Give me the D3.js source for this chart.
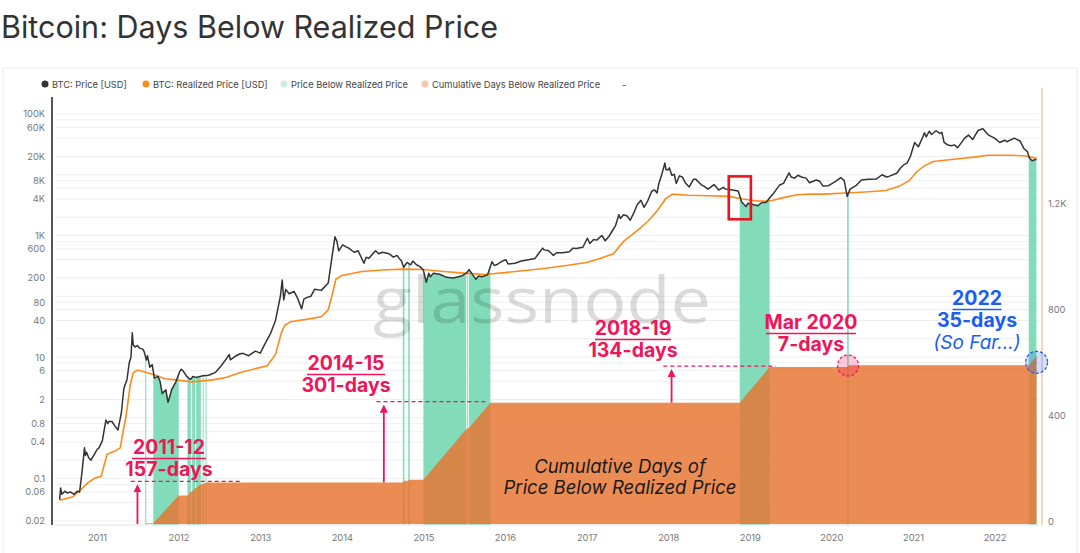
<!DOCTYPE html>
<html>
<head>
<meta charset="utf-8">
<script src="https://cdn.jsdelivr.net/npm/d3@7"></script>
<style>
  body { margin: 0; background: #fff; font-family: Inter, "Noto Sans", sans-serif; }
</style>
</head>
<body>
<svg id="chart" width="1080" height="553"></svg>
<script>
// --- Données
const btcPrice = [
  ["2010-07-18",0.045],["2010-07-22",0.07],["2010-07-28",0.055],["2010-08-10",0.062],["2010-08-20",0.058],
  ["2010-09-05",0.06],["2010-09-20",0.055],["2010-10-05",0.062],["2010-10-15",0.06],["2010-10-25",0.12],
  ["2010-11-06",0.32],["2010-11-10",0.24],["2010-11-15",0.27],["2010-11-25",0.22],["2010-12-05",0.2],
  ["2010-12-20",0.25],["2011-01-01",0.3],["2011-01-10",0.32],["2011-01-25",0.42],["2011-02-10",0.92],
  ["2011-02-18",0.8],["2011-02-25",0.88],["2011-03-10",0.86],["2011-03-20",0.75],["2011-04-05",0.63],
  ["2011-04-20",1.2],["2011-05-01",3.0],["2011-05-08",3.6],["2011-05-15",4.2],["2011-05-25",7.9],
  ["2011-06-02",10],["2011-06-08",25],["2011-06-12",16],["2011-06-20",14.6],["2011-07-01",15.5],
  ["2011-07-10",14],["2011-07-25",13.5],["2011-08-01",12],["2011-08-10",8.9],["2011-08-15",10.5],
  ["2011-08-25",6.8],["2011-09-05",7.5],["2011-09-15",4.5],["2011-10-01",4.8],["2011-10-10",4.0],
  ["2011-10-20",2.5],["2011-11-05",2.9],["2011-11-15",1.8],["2011-11-25",2.4],["2011-12-01",2.9],
  ["2011-12-20",3.9],["2012-01-05",5.6],["2012-01-12",6.3],["2012-01-20",6.0],["2012-02-05",4.9],
  ["2012-02-18",4.4],["2012-02-25",4.3],["2012-03-05",4.8],["2012-03-20",4.6],["2012-04-05",4.8],
  ["2012-04-20",4.9],["2012-05-15",5.0],["2012-06-15",5.6],["2012-07-10",7.2],["2012-07-25",8.5],
  ["2012-08-15",11],["2012-08-20",9],["2012-09-15",10.5],["2012-10-01",11.2],["2012-10-15",11.5],
  ["2012-11-10",10.5],["2012-12-10",12.5],["2013-01-01",11.6],["2013-01-20",16],["2013-02-15",24],
  ["2013-03-10",40],["2013-04-01",100],["2013-04-09",185],["2013-04-16",87],["2013-04-25",130],
  ["2013-05-10",110],["2013-06-01",120],["2013-06-15",96],["2013-07-05",62],["2013-07-15",90],
  ["2013-07-30",96],["2013-08-15",100],["2013-09-01",130],["2013-10-01",125],["2013-11-01",165],
  ["2013-11-20",500],["2013-12-01",950],["2013-12-10",800],["2013-12-18",560],["2014-01-05",700],
  ["2014-01-20",650],["2014-02-01",620],["2014-02-25",530],["2014-03-15",560],["2014-04-10",350],
  ["2014-04-20",440],["2014-05-01",420],["2014-06-01",560],["2014-06-15",500],["2014-07-01",530],
  ["2014-08-01",500],["2014-08-20",440],["2014-09-05",470],["2014-09-15",420],["2014-09-25",380],
  ["2014-10-05",300],["2014-10-20",360],["2014-11-05",330],["2014-11-15",380],["2014-12-01",330],
  ["2014-12-15",310],["2015-01-01",270],["2015-01-14",170],["2015-01-25",240],["2015-02-01",210],
  ["2015-02-15",240],["2015-03-15",230],["2015-04-15",205],["2015-05-15",200],["2015-06-20",215],
  ["2015-07-12",240],["2015-07-25",275],["2015-08-24",190],["2015-09-05",215],["2015-09-20",210],
  ["2015-10-15",225],["2015-11-04",370],["2015-11-15",320],["2015-12-01",340],["2015-12-15",370],
  ["2016-01-05",400],["2016-01-15",340],["2016-02-15",350],["2016-03-15",380],["2016-04-15",400],
  ["2016-05-15",420],["2016-05-30",500],["2016-06-18",620],["2016-06-25",580],["2016-07-15",560],
  ["2016-08-05",470],["2016-08-20",520],["2016-09-15",520],["2016-10-15",540],["2016-11-01",620],
  ["2016-11-15",610],["2016-12-15",640],["2017-01-04",900],["2017-01-15",740],["2017-02-01",860],
  ["2017-02-15",840],["2017-03-10",1000],["2017-03-25",820],["2017-04-10",960],["2017-04-20",1100],
  ["2017-05-10",1450],["2017-05-25",2200],["2017-06-01",1900],["2017-06-15",2200],["2017-07-01",2100],
  ["2017-07-15",1780],["2017-08-01",2400],["2017-08-15",3200],["2017-09-01",3800],["2017-09-15",2900],
  ["2017-10-01",3700],["2017-10-20",5400],["2017-11-01",5600],["2017-11-12",5000],["2017-11-20",7200],
  ["2017-12-01",9500],["2017-12-10",12500],["2017-12-17",15600],["2017-12-22",12200],["2017-12-30",12000],
  ["2018-01-06",13000],["2018-01-17",9800],["2018-01-28",10200],["2018-02-06",7200],["2018-02-20",9600],
  ["2018-03-05",9200],["2018-03-18",7400],["2018-04-05",6300],["2018-04-24",8400],["2018-05-05",8400],
  ["2018-05-28",6900],["2018-06-15",6300],["2018-06-28",5800],["2018-07-25",6900],["2018-08-15",5600],
  ["2018-09-04",6200],["2018-09-15",5800],["2018-10-15",5600],["2018-11-10",5400],["2018-11-20",4200],
  ["2018-11-25",3600],["2018-12-15",3000],["2018-12-24",3400],["2019-01-05",3300],["2019-01-20",3200],
  ["2019-02-07",3100],["2019-02-24",3500],["2019-03-15",3500],["2019-04-05",4400],["2019-04-15",4800],
  ["2019-05-15",6800],["2019-06-01",7200],["2019-06-26",10700],["2019-07-05",9200],["2019-07-20",8800],
  ["2019-08-05",9800],["2019-08-20",9200],["2019-09-10",8800],["2019-09-25",7400],["2019-10-26",8200],
  ["2019-11-10",7800],["2019-11-25",6500],["2019-12-20",6600],["2020-01-20",7800],["2020-02-12",9000],
  ["2020-02-28",8000],["2020-03-12",4400],["2020-03-25",5800],["2020-04-20",6600],["2020-05-15",8200],
  ["2020-06-15",8400],["2020-07-20",8500],["2020-08-15",10000],["2020-09-05",9200],["2020-09-15",9400],
  ["2020-10-20",10600],["2020-11-05",12800],["2020-11-20",14500],["2020-12-05",15500],["2020-12-20",20000],
  ["2021-01-08",34000],["2021-01-25",29000],["2021-02-10",39000],["2021-02-21",49000],["2021-03-01",42000],
  ["2021-03-14",52000],["2021-03-25",46000],["2021-04-14",53000],["2021-05-01",48000],["2021-05-10",50000],
  ["2021-05-20",34000],["2021-06-05",31000],["2021-06-22",30000],["2021-07-05",31000],["2021-07-20",28000],
  ["2021-08-20",40000],["2021-09-06",45000],["2021-09-25",38000],["2021-10-05",44000],["2021-10-20",54000],
  ["2021-11-10",57000],["2021-11-25",49000],["2021-12-05",45000],["2022-01-01",40000],["2022-01-24",34000],
  ["2022-02-15",37000],["2022-02-25",35000],["2022-03-30",40000],["2022-04-25",36000],["2022-05-12",27000],
  ["2022-05-28",24000],["2022-06-05",19000],["2022-06-18",17000],["2022-06-28",17600],["2022-07-08",17800]
];

const realizedPrice = [
  ["2010-07-18",0.044],["2010-09-15",0.05],["2010-10-20",0.065],["2010-11-20",0.085],["2010-12-20",0.1],
  ["2011-01-20",0.11],["2011-02-15",0.25],["2011-03-20",0.28],["2011-04-15",0.32],["2011-04-28",0.6],
  ["2011-05-10",1.0],["2011-05-30",3.5],["2011-06-12",5.5],["2011-07-01",6.1],["2011-08-15",5.5],
  ["2011-09-20",5.0],["2011-11-01",4.4],["2011-12-20",4.2],["2012-03-01",3.9],["2012-06-01",4.2],
  ["2012-08-01",4.6],["2012-10-01",5.5],["2012-12-15",6.5],["2013-02-01",7.2],["2013-03-10",11],
  ["2013-04-05",25],["2013-04-20",33],["2013-05-15",38],["2013-08-01",42],["2013-10-01",46],
  ["2013-11-01",60],["2013-11-20",110],["2013-12-05",190],["2014-01-01",220],["2014-04-01",255],
  ["2014-07-01",270],["2014-10-01",280],["2015-01-01",275],["2015-04-01",255],["2015-07-01",240],
  ["2015-10-01",228],["2016-01-01",245],["2016-04-01",265],["2016-07-01",290],["2016-10-01",320],
  ["2017-01-01",360],["2017-03-01",420],["2017-05-01",500],["2017-06-15",800],["2017-08-15",1200],
  ["2017-10-01",1700],["2017-11-15",2600],["2017-12-20",4000],["2018-01-20",4800],["2018-04-01",4600],
  ["2018-07-01",4500],["2018-10-01",4400],["2018-12-01",4000],["2019-02-01",3700],["2019-04-01",3700],
  ["2019-06-01",4200],["2019-08-01",4700],["2019-10-01",4800],["2019-12-01",4800],["2020-03-01",5000],
  ["2020-06-01",5200],["2020-09-01",5500],["2020-11-01",6500],["2020-12-15",8000],["2021-01-15",11000],
  ["2021-02-20",14000],["2021-04-01",16500],["2021-06-01",17500],["2021-08-01",18500],["2021-10-01",19500],
  ["2021-12-01",21000],["2022-03-01",21000],["2022-05-15",20500],["2022-07-08",18600]
];

// Périodes où le prix est sous le prix réalisé
const belowBands = [
  ["2011-08-05","2011-08-08"],["2011-09-10","2012-01-02"],["2012-02-10","2012-02-25"],
  ["2012-03-02","2012-03-15"],["2012-03-20","2012-04-10"],["2012-04-18","2012-04-22"],
  ["2012-05-01","2012-05-05"],["2014-10-01","2014-10-08"],["2014-10-25","2014-11-01"],
  ["2015-01-01","2015-07-12"],["2015-07-16","2015-07-20"],["2015-07-24","2015-10-28"],
  ["2018-11-17","2019-03-31"],["2020-03-12","2020-03-19"],["2022-06-03","2022-07-08"]
];

// Jours cumulés sous le prix réalisé
const cumDays = [
  ["2011-08-05",0],["2011-08-08",3],["2011-09-10",3],["2012-01-02",108],["2012-02-10",108],
  ["2012-02-25",123],["2012-03-02",123],["2012-03-15",136],["2012-03-20",136],["2012-04-10",150],
  ["2012-04-18",150],["2012-04-22",154],["2012-05-01",154],["2012-05-05",157],["2014-10-01",157],
  ["2014-10-08",163],["2014-10-25",163],["2014-11-01",167],["2015-01-01",167],["2015-07-12",358],
  ["2015-07-16",358],["2015-07-20",362],["2015-07-24",362],["2015-10-28",458],["2018-11-17",458],
  ["2019-03-31",592],["2020-03-12",592],["2020-03-19",599],["2022-06-03",599],["2022-07-08",634]
];

const yearTicks = ["2011","2012","2013","2014","2015","2016","2017","2018","2019","2020","2021","2022"];
const leftTicks = [0.02,0.06,0.1,0.4,0.8,2,6,10,40,80,200,600,1000,4000,8000,20000,60000,100000];
const rightTicks = [0,400,800,1200];

const legendItems = [
  { label: "BTC: Price [USD]", color: "#333333" },
  { label: "BTC: Realized Price [USD]", color: "#ff8a1c" },
  { label: "Price Below Realized Price", color: "#c8efdf" },
  { label: "Cumulative Days Below Realized Price", color: "#f8c6ad" }
];

// --- Mise en place
const parse = d3.utcParse("%Y-%m-%d");
const price = btcPrice.map(([d, v]) => ({ date: parse(d), v }));
const realized = realizedPrice.map(([d, v]) => ({ date: parse(d), v }));
const cum = cumDays.map(([d, v]) => ({ date: parse(d), v }));
const bands = belowBands.map(([a, b]) => [parse(a), parse(b)]);

const svg = d3.select("#chart");
const plot = { left: 55, right: 1039, top: 98, bottom: 525 };

const x = d3.scaleUtc()
  .domain([parse("2011-01-01"), parse("2022-01-01")])
  .range([97, 994.6]);
const y = d3.scaleLog().domain([0.02, 100000]).range([521, 114]);
const yR = d3.scaleLinear().domain([0, 1600]).range([524, 100]);

// --- Titre et cadre
svg.append("text")
  .attr("x", 1).attr("y", 38)
  .attr("font-size", 30.5)
  .attr("fill", "#333")
  .text("Bitcoin: Days Below Realized Price");

svg.append("rect")
  .attr("x", 3).attr("y", 68).attr("width", 1074).attr("height", 500)
  .attr("fill", "none").attr("stroke", "#ececec");

// --- Légende
const legend = svg.append("g").attr("font-size", 9.3).attr("fill", "#444");
const legendX = [45, 146, 284, 425];
legendItems.forEach((it, i) => {
  legend.append("circle").attr("cx", legendX[i]).attr("cy", 84).attr("r", 3.5).attr("fill", it.color);
  legend.append("text").attr("x", legendX[i] + 7).attr("y", 84)
    .attr("dominant-baseline", "central").text(it.label);
});
legend.append("text").attr("x", 622).attr("y", 84).attr("dominant-baseline", "central").text("-");

// --- Grille
const grid = [];
for (let k = -2; k <= 5; k++) [1, 2, 4, 6, 8].forEach(m => grid.push(m * Math.pow(10, k)));
svg.append("g").selectAll("line")
  .data(grid.filter(v => y(v) >= plot.top && y(v) <= plot.bottom - 2))
  .join("line")
  .attr("x1", plot.left).attr("x2", plot.right)
  .attr("y1", d => y(d)).attr("y2", d => y(d))
  .attr("stroke", "#efefef");

// --- Bandes vertes (prix sous le prix réalisé)
const defs = svg.append("defs");
const clip = defs.append("clipPath").attr("id", "bandsClip");
bands.forEach(([a, b]) => {
  clip.append("rect")
    .attr("x", x(a)).attr("width", Math.max(1, x(b) - x(a)))
    .attr("y", plot.top).attr("height", plot.bottom - plot.top);
});

svg.append("path")
  .datum(price)
  .attr("clip-path", "url(#bandsClip)")
  .attr("fill", "#82dcb9")
  .attr("d", d3.area().x(d => x(d.date)).y0(plot.bottom).y1(d => y(d.v)));

// --- Aire cumulée
svg.append("path")
  .datum(cum)
  .attr("fill", "rgb(232,115,48)")
  .attr("fill-opacity", 0.82)
  .attr("d", d3.area().x(d => x(d.date)).y0(yR(0)).y1(d => yR(d.v)));

// --- Filigrane
svg.append("text")
  .attr("x", 373).attr("y", 323)
  .attr("font-family", "'Open Sans', sans-serif")
  .attr("font-size", 64)
  .attr("textLength", 338)
  .attr("lengthAdjust", "spacingAndGlyphs")
  .attr("fill", "#000").attr("fill-opacity", 0.14)
  .text("glassnode");

// --- Lignes
svg.append("path")
  .datum(realized)
  .attr("fill", "none").attr("stroke", "#ff8a1c").attr("stroke-width", 1.6)
  .attr("d", d3.line().x(d => x(d.date)).y(d => y(d.v)));

svg.append("path")
  .datum(price)
  .attr("fill", "none").attr("stroke", "#333").attr("stroke-width", 1.5)
  .attr("stroke-linejoin", "round")
  .attr("d", d3.line().x(d => x(d.date)).y(d => y(d.v)));

// --- Axes
const fmtLeft = v => v >= 1000 ? (v / 1000) + "K" : String(v);
const axL = svg.append("g").attr("transform", "translate(52,0)")
  .call(d3.axisLeft(y).tickValues(leftTicks).tickFormat(fmtLeft).tickSize(0).tickPadding(7));
axL.select(".domain").remove();
axL.selectAll("text").attr("fill", "#777").attr("font-size", 9.3).attr("font-family", "Inter, sans-serif");
svg.append("line").attr("x1", 52).attr("x2", 52).attr("y1", 97).attr("y2", plot.bottom)
  .attr("stroke", "#555").attr("stroke-width", 2);

const axR = svg.append("g").attr("transform", "translate(1042,0)")
  .call(d3.axisRight(yR).tickValues(rightTicks)
    .tickFormat(v => v >= 1000 ? (v / 1000) + "K" : String(v)).tickSize(0).tickPadding(6));
axR.select(".domain").remove();
axR.selectAll("text").attr("fill", "#777").attr("font-size", 9.3).attr("font-family", "Inter, sans-serif")
  .attr("dy", "0.1em");
svg.append("line").attr("x1", 1042).attr("x2", 1042).attr("y1", 88).attr("y2", plot.bottom)
  .attr("stroke", "#f8c6ad").attr("stroke-width", 1.5);

const axB = svg.append("g").attr("transform", `translate(0,${plot.bottom})`)
  .call(d3.axisBottom(x).tickValues(yearTicks.map(t => parse(t + "-01-01")))
    .tickFormat(d3.utcFormat("%Y")).tickSize(0).tickPadding(9));
axB.select(".domain").attr("stroke", "#e3e3e3").attr("d", `M${plot.left},0H${plot.right}`);
axB.selectAll("text").attr("fill", "#777").attr("font-size", 9.3).attr("font-family", "Inter, sans-serif");

// --- Annotations
const pink = "#f0145a";
const blue = "#1a5cf5";

defs.append("marker").attr("id", "arrowPink")
  .attr("viewBox", "0 0 10 10").attr("refX", 5).attr("refY", 5)
  .attr("markerWidth", 4.5).attr("markerHeight", 4.5).attr("orient", "auto")
  .append("path").attr("d", "M0,0L10,5L0,10Z").attr("fill", pink);

function callout(cx, yTop, l1, l2, color, ulHalf) {
  const g = svg.append("g").attr("fill", color).attr("font-weight", 700)
    .attr("font-size", 19.5).attr("text-anchor", "middle");
  g.append("text").attr("x", cx).attr("y", yTop).text(l1);
  g.append("line").attr("x1", cx - ulHalf).attr("x2", cx + ulHalf)
    .attr("y1", yTop + 4.5).attr("y2", yTop + 4.5).attr("stroke", color).attr("stroke-width", 1.6);
  g.append("text").attr("x", cx).attr("y", yTop + 22).text(l2);
  return g;
}

function arrow(date, v0, v1) {
  svg.append("line")
    .attr("x1", x(parse(date))).attr("x2", x(parse(date)))
    .attr("y1", yR(v0)).attr("y2", yR(v1) + 6)
    .attr("stroke", pink).attr("stroke-width", 1.8)
    .attr("marker-end", "url(#arrowPink)");
}

function dashed(d0, d1, v) {
  svg.append("line")
    .attr("x1", x(parse(d0))).attr("x2", x(parse(d1)))
    .attr("y1", yR(v) - 1).attr("y2", yR(v) - 1)
    .attr("stroke", pink).attr("stroke-width", 1.4).attr("stroke-dasharray", "4,3");
}

callout(169, 454, "2011-12", "157-days", pink, 37);
dashed("2011-06-01", "2012-10-15", 157);
arrow("2011-07-01", 0, 157);

callout(346, 370, "2014-15", "301-days", pink, 39);
dashed("2014-06-05", "2015-10-16", 458);
arrow("2014-07-08", 157, 458);

callout(633, 335, "2018-19", "134-days", pink, 38);
dashed("2017-12-10", "2019-04-27", 592);
arrow("2018-01-16", 458, 592);

callout(811, 329, "Mar 2020", "7-days", pink, 45);
svg.append("circle")
  .attr("cx", x(parse("2020-03-16"))).attr("cy", yR(598))
  .attr("r", 10.5)
  .attr("fill", pink).attr("fill-opacity", 0.22)
  .attr("stroke", pink).attr("stroke-width", 1.2).attr("stroke-dasharray", "3,2");

callout(977, 305, "2022", "35-days", blue, 24.5);
svg.append("text")
  .attr("x", 977).attr("y", 349).attr("text-anchor", "middle")
  .attr("font-size", 19).attr("font-style", "italic").attr("fill", blue)
  .text("(So Far...)");
svg.append("circle")
  .attr("cx", x(parse("2022-07-08"))).attr("cy", yR(610))
  .attr("r", 11)
  .attr("fill", blue).attr("fill-opacity", 0.2)
  .attr("stroke", blue).attr("stroke-width", 1.2).attr("stroke-dasharray", "3,2");

const cumLabel = svg.append("g").attr("text-anchor", "middle")
  .attr("font-size", 18.5).attr("font-style", "italic").attr("fill", "#1a1a1a");
cumLabel.append("text").attr("x", 620).attr("y", 473).text("Cumulative Days of");
cumLabel.append("text").attr("x", 620).attr("y", 494).text("Price Below Realized Price");

// Encadré rouge (fin 2018)
svg.append("rect")
  .attr("x", x(parse("2018-09-29"))).attr("y", y(9400))
  .attr("width", x(parse("2019-01-06")) - x(parse("2018-09-29")))
  .attr("height", y(1850) - y(9400))
  .attr("fill", "none").attr("stroke", "#e8141e").attr("stroke-width", 2.6);
</script>
</body>
</html>
